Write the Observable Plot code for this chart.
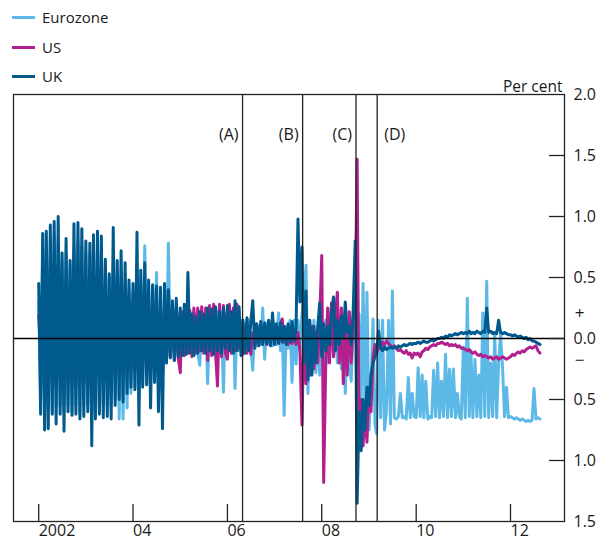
<!DOCTYPE html>
<html><head><meta charset="utf-8">
<script src="https://cdn.jsdelivr.net/npm/d3@7"></script>
<script src="https://cdn.jsdelivr.net/npm/@observablehq/plot@0.6"></script>
<style>
body{margin:0;background:#fff;font-family:"Open Sans",sans-serif;}
#wrap{position:relative;width:598px;height:543px;overflow:hidden;}
.leg{position:absolute;left:12px;font-size:15px;color:#1a1a1a;height:20px;line-height:20px;white-space:nowrap;}
.leg span.sw{display:inline-block;width:23px;height:3px;vertical-align:middle;margin-right:7px;margin-top:-2px;}
</style></head>
<body><div id="wrap"></div>
<script>
// Series names and colours
const seriesNames = ["Eurozone", "US", "UK"];
const seriesColors = ["#5cb8e6", "#b3208d", "#015a8e"];

// Semi-monthly observations from January 2002 (per cent)
const ukValues = [
 0.45,-0.62,0.86,-0.75,0.88,-0.74,0.93,-0.62,0.96,-0.70,1.00,-0.62,
 0.70,-0.76,0.82,-0.60,0.64,-0.63,0.94,-0.62,0.95,-0.66,0.90,-0.64,
 0.80,-0.60,0.78,-0.88,0.85,-0.66,0.88,-0.62,0.84,-0.65,0.65,-0.64,
 0.53,-0.66,0.91,-0.55,0.64,-0.50,0.72,-0.52,0.62,-0.45,0.48,-0.40,
 0.45,-0.42,0.87,-0.71,0.56,-0.40,0.62,-0.38,0.48,-0.57,0.44,-0.36,
 0.43,-0.60,0.42,-0.74,0.45,-0.20,0.40,-0.16,0.31,-0.18,0.33,-0.15,
 0.25,-0.14,0.28,-0.13,0.54,-0.12,0.20,-0.14,0.18,-0.12,0.22,-0.10,
 0.20,-0.12,0.25,-0.10,0.24,-0.13,0.26,-0.10,0.22,-0.12,0.25,-0.08,
 0.27,-0.10,0.22,-0.12,0.31,-0.10,0.26,-0.14,0.15,-0.12,0.17,-0.10,
 0.14,0.31,-0.08,0.12,-0.06,0.14,-0.05,0.13,-0.04,0.15,-0.06,0.21,
 -0.05,0.12,-0.04,0.13,-0.03,0.10,-0.05,0.12,-0.03,0.14,-0.02,0.08,
 0.98,0.30,0.75,-0.20,0.39,-0.34,0.15,-0.30,0.10,-0.20,0.10,0.29,
 -0.15,0.12,-0.10,0.10,-0.05,0.20,0.34,-0.10,0.15,-0.05,0.18,0.00,
 0.30,0.05,0.10,-0.05,0.25,0.80,-1.35,-0.60,-0.92,-0.50,-0.75,-0.40,
 -0.55,-0.30,-0.20,-0.15,-0.10,0.06,-0.08,-0.10,-0.07,-0.09,-0.08,-0.07,
 -0.08,-0.07,-0.08,-0.06,-0.07,-0.06,-0.05,-0.06,-0.05,-0.04,-0.05,-0.04,
 -0.04,-0.03,-0.04,-0.03,-0.02,-0.03,-0.03,-0.02,-0.01,-0.02,-0.01,0.00,
 0.00,0.01,0.00,0.02,0.01,0.03,0.02,0.03,0.04,0.03,0.04,0.05,
 0.04,0.05,0.04,0.06,0.04,0.05,0.04,0.06,0.05,0.04,0.06,0.05,
 0.25,0.05,0.06,0.04,0.05,0.04,0.15,0.05,0.04,0.05,0.04,0.03,
 0.03,0.02,0.03,0.02,0.01,0.02,0.01,0.00,0.01,-0.01,0.00,-0.02,
 -0.02,-0.03,-0.04,-0.05
];
const usValues = [
 0.19,-0.07,0.35,-0.30,0.40,-0.35,0.45,-0.30,0.40,-0.40,0.45,-0.35,
 0.40,-0.40,0.45,-0.35,0.40,-0.35,0.45,-0.40,0.40,-0.35,0.45,-0.38,
 0.40,-0.35,0.42,-0.40,0.40,-0.35,0.38,-0.36,0.40,-0.32,0.35,-0.30,
 0.35,-0.30,0.38,-0.30,0.35,-0.28,0.32,-0.30,0.30,-0.28,0.30,-0.25,
 0.30,-0.25,0.28,-0.26,0.30,-0.25,0.27,-0.24,0.26,-0.22,0.27,-0.22,
 0.25,-0.20,0.24,-0.29,0.25,-0.18,0.22,-0.15,0.24,-0.18,0.22,-0.16,
 -0.28,0.22,-0.14,0.24,-0.12,0.23,-0.15,0.25,-0.12,0.25,-0.10,0.26,
 -0.12,0.25,-0.18,0.27,-0.14,0.28,-0.12,-0.39,0.28,-0.15,0.27,-0.12,
 -0.17,0.28,-0.12,0.25,-0.10,0.28,-0.08,0.10,-0.13,0.08,-0.12,0.06,
 -0.13,0.05,-0.05,0.08,-0.04,0.06,-0.03,0.07,-0.05,0.06,-0.04,0.08,
 -0.03,0.10,-0.04,0.12,0.16,-0.03,0.08,-0.05,0.07,-0.04,0.06,-0.05,
 0.05,-0.10,-0.71,0.10,-0.37,0.15,-0.30,0.10,-0.25,0.05,-0.20,0.15,
 0.68,-1.18,-0.20,0.25,-0.20,0.29,-0.15,0.20,0.38,-0.20,0.25,-0.37,
 0.20,-0.30,0.22,-0.20,0.15,0.30,1.47,-0.89,-0.50,-0.88,-0.60,-0.85,
 -0.40,-0.60,-0.15,-0.05,-0.12,-0.05,-0.08,-0.03,-0.05,-0.02,-0.04,-0.06,
 -0.07,-0.06,-0.08,-0.10,-0.09,-0.11,-0.12,-0.10,-0.13,-0.12,-0.16,-0.12,
 -0.13,-0.12,-0.15,-0.11,-0.10,-0.08,-0.09,-0.07,-0.06,-0.05,-0.06,-0.04,
 -0.04,-0.03,-0.04,-0.05,-0.04,-0.06,-0.05,-0.06,-0.05,-0.07,-0.06,-0.08,
 -0.08,-0.09,-0.10,-0.09,-0.11,-0.12,-0.11,-0.13,-0.14,-0.13,-0.15,-0.14,
 -0.15,-0.16,-0.15,-0.17,-0.16,-0.15,-0.17,-0.16,-0.15,-0.16,-0.17,-0.16,
 -0.15,-0.13,-0.14,-0.12,-0.11,-0.12,-0.10,-0.11,-0.09,-0.08,-0.07,-0.08,
 -0.07,-0.06,-0.10,-0.12
];
const euroValues = [
 0.30,-0.50,0.70,-0.60,0.75,-0.55,0.80,-0.60,0.85,-0.55,0.80,-0.55,
 0.65,-0.60,0.70,-0.55,0.60,-0.60,0.75,-0.55,0.80,-0.60,0.75,-0.55,
 0.70,-0.55,0.70,-0.60,0.75,-0.55,0.72,-0.58,0.70,-0.55,0.60,-0.55,
 0.50,-0.55,0.60,-0.50,0.55,-0.66,0.50,-0.66,0.45,-0.57,0.40,-0.45,
 0.38,-0.40,0.50,-0.40,0.45,-0.37,0.76,-0.35,0.40,-0.35,0.42,-0.33,
 0.54,-0.30,0.35,-0.28,0.30,-0.20,0.78,-0.15,0.28,-0.15,0.25,-0.15,
 0.22,-0.12,0.20,-0.12,0.25,-0.10,0.18,-0.12,0.20,-0.12,-0.22,0.18,
 -0.10,0.20,-0.37,0.18,-0.12,0.20,-0.10,0.22,-0.12,0.18,-0.44,0.20,
 -0.10,0.20,-0.12,0.18,-0.41,0.20,-0.10,0.15,-0.08,0.12,-0.10,0.15,
 -0.08,-0.26,0.12,-0.06,0.10,-0.05,0.25,-0.17,0.12,-0.05,0.10,-0.06,
 0.12,-0.05,0.21,-0.10,0.12,-0.63,0.10,-0.08,0.15,-0.36,0.15,-0.21,
 0.15,-0.10,0.20,0.30,0.60,-0.45,0.10,-0.30,0.15,-0.28,0.10,-0.30,
 0.12,-0.25,0.15,-0.20,0.10,0.25,-0.15,0.12,-0.20,0.15,-0.25,0.10,
 -0.45,0.10,-0.20,-0.35,0.10,0.05,-0.10,0.20,-0.50,0.45,-0.60,0.38,
 -0.75,-0.40,0.16,-0.70,-0.78,0.15,-0.65,0.15,-0.75,-0.60,0.15,-0.70,
 0.39,-0.65,-0.66,-0.64,-0.45,-0.65,-0.64,-0.66,-0.32,-0.65,-0.45,-0.64,
 -0.65,-0.24,-0.64,-0.30,-0.65,-0.35,-0.66,-0.64,-0.65,-0.26,-0.64,-0.20,
 -0.65,-0.35,-0.64,-0.13,-0.65,-0.25,-0.64,-0.25,-0.65,-0.45,-0.64,-0.66,
 -0.07,-0.65,0.33,-0.64,-0.10,-0.65,-0.17,-0.64,-0.30,-0.65,0.21,-0.64,
 0.47,-0.65,-0.20,-0.64,0.04,-0.65,-0.20,0.03,-0.25,-0.64,-0.40,-0.65,
 -0.64,-0.65,-0.66,-0.65,-0.66,-0.67,-0.66,-0.67,-0.68,-0.67,-0.68,-0.67,
 -0.41,-0.66,-0.65,-0.66
];

// Event markers (label side: -1 left of line, 1 right of line)
const eventLabels = ["(A)", "(B)", "(C)", "(D)"];
const eventDates = ["2006-04-28", "2007-08-06", "2008-09-22", "2009-03-05"];
const eventSides = [-1, -1, -1, 1];

// Axis ticks
const xTickYears = [2002, 2004, 2006, 2008, 2010, 2012];
const xTickLabels = ["2002", "04", "06", "08", "10", "12"];
const yTickMarks = [1.5, 1.0, 0.5, 0, -0.5, -1.0];
const yTickLabels = [2.0, 1.5, 1.0, 0.5, 0, -0.5, -1.0, -1.5];

const dateAt = i => new Date(2002 + Math.floor(i / 24), Math.floor((i % 24) / 2), (i % 2) ? 16 : 1);
const toRows = (vals, name) => vals.map((v, i) => ({date: dateAt(i), value: v, series: name}));
const euro = toRows(euroValues, "Eurozone");
const us = toRows(usValues, "US");
const uk = toRows(ukValues, "UK");
const events = eventLabels.map((l, i) => ({label: l, side: eventSides[i], date: new Date(eventDates[i] + "T00:00")}));
const xTicks = xTickYears.map(y => new Date(y, 0, 1));
const xLabelOf = new Map(xTickYears.map((y, i) => [y, xTickLabels[i]]));

const ink = "#1a1a1a";
const lw = 3;
const chart = Plot.plot({
  width: 598, height: 543,
  marginLeft: 13, marginRight: 34, marginTop: 94, marginBottom: 22,
  x: {type: "time", domain: [new Date(2001, 5, 20), new Date(2013, 1, 22)], label: null},
  y: {domain: [-1.5, 2], label: null},
  style: {fontFamily: "'Open Sans', sans-serif", fontSize: "16px", color: ink, background: "#fff"},
  marks: [
    Plot.lineY(euro, {x: "date", y: "value", stroke: seriesColors[0], strokeWidth: lw}),
    Plot.lineY(us, {x: "date", y: "value", stroke: seriesColors[1], strokeWidth: lw}),
    Plot.lineY(uk, {x: "date", y: "value", stroke: seriesColors[2], strokeWidth: lw}),
    Plot.ruleY([0], {stroke: "#000", strokeWidth: 1.4}),
    Plot.ruleX(events, {x: "date", stroke: "#222", strokeWidth: 1.3}),
    Plot.text(events.filter(e => e.side < 0), {x: "date", text: "label", frameAnchor: "top", dy: 34, dx: -4, textAnchor: "end", fill: ink, fontSize: 16}),
    Plot.text(events.filter(e => e.side > 0), {x: "date", text: "label", frameAnchor: "top", dy: 34, dx: 7, textAnchor: "start", fill: ink, fontSize: 16}),
    Plot.frame({stroke: "#222", strokeWidth: 1.3}),
    Plot.axisY(yTickMarks, {anchor: "right", tickSize: 16, dx: -16, tickFormat: () => "", label: null, stroke: "#222", strokeWidth: 1.3}),
    Plot.axisY(yTickLabels, {anchor: "right", tickSize: 0, tickPadding: 9, tickFormat: d => Math.abs(d).toFixed(1), label: null, fill: ink, fontSize: 16}),
    Plot.axisX(xTicks, {anchor: "bottom", tickSize: 17, dy: -17, tickFormat: () => "", label: null, stroke: "#222", strokeWidth: 1.3}),
    Plot.axisX(xTicks, {anchor: "bottom", tickSize: 0, tickPadding: 3, textAnchor: "start", tickFormat: d => xLabelOf.get(d.getFullYear()), label: null, fill: ink, fontSize: 16}),
    Plot.text(["Per cent"], {frameAnchor: "top-right", dy: -14, dx: -2, textAnchor: "end", fill: ink, fontSize: 15.5}),
    Plot.text(["+"], {y: () => 0, frameAnchor: "right", dx: 15, dy: -25, textAnchor: "middle", fill: ink, fontSize: 17}),
    Plot.text(["\u2212"], {y: () => 0, frameAnchor: "right", dx: 15, dy: 22, textAnchor: "middle", fill: ink, fontSize: 17})
  ]
});
const wrap = document.getElementById("wrap");
wrap.appendChild(chart);
const legendTops = [7, 37, 66];
seriesNames.forEach((name, i) => {
  const d = document.createElement("div");
  d.className = "leg";
  d.style.top = legendTops[i] + "px";
  d.innerHTML = `<span class="sw" style="background:${seriesColors[i]}"></span>${name}`;
  wrap.appendChild(d);
});
</script>
</body></html>
